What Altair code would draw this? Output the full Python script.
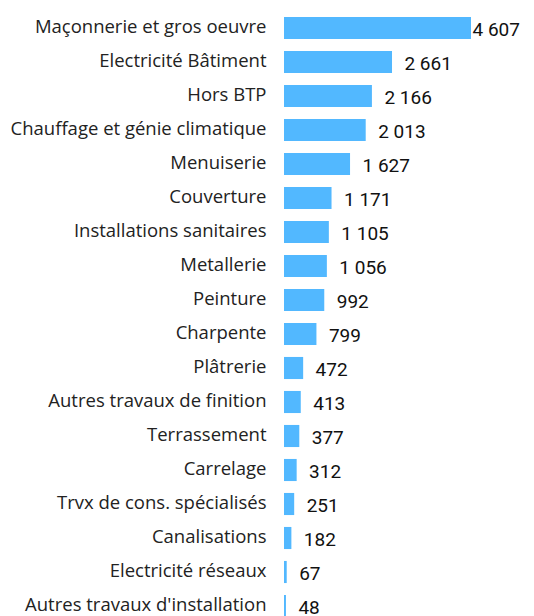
import altair as alt
import pandas as pd

categories = [
    "Maçonnerie et gros oeuvre", "Electricité Bâtiment", "Hors BTP",
    "Chauffage et génie climatique", "Menuiserie", "Couverture",
    "Installations sanitaires", "Metallerie", "Peinture", "Charpente",
    "Plâtrerie", "Autres travaux de finition", "Terrassement", "Carrelage",
    "Trvx de cons. spécialisés", "Canalisations", "Electricité réseaux",
    "Autres travaux d'installation",
]
values = [4607, 2661, 2166, 2013, 1627, 1171, 1105, 1056, 992, 799,
          472, 413, 377, 312, 251, 182, 67, 48]
labels = ["4 607", "2 661", "2 166", "2 013", "1 627", "1 171", "1 105",
          "1 056", "992", "799", "472", "413", "377", "312", "251", "182",
          "67", "48"]

df = pd.DataFrame({"cat": categories, "value": values, "label": labels})
vmax = max(values)

y = alt.Y("cat:N", sort=categories, title=None,
          scale=alt.Scale(paddingInner=0.35, paddingOuter=0.175, range=[0, 612]),
          axis=alt.Axis(domain=False, ticks=False, labelPadding=18,
                        labelFont="Open Sans", labelFontSize=18.5, labelBaseline="middle",
                        labelColor="#222222", labelLimit=320, labelOffset=-1))
xs = alt.Scale(domain=[0, vmax], nice=False, zero=True)

bars = alt.Chart(df).mark_bar(color="#52b8ff").encode(
    x=alt.X("value:Q", scale=xs, axis=None),
    y=y,
)

text = alt.Chart(df).transform_calculate(
    lx=f"min(datum.value + 270, {vmax})"
).mark_text(align="left", baseline="middle", font="Roboto", fontSize=19,
            color="#111111", dy=2, dx=1.5).encode(
    x=alt.X("lx:Q", scale=xs, axis=None),
    y=y,
    text="label:N",
)

chart = (bars + text).properties(
    width=187, height=612,
    autosize=alt.AutoSizeParams(type="none"),
    padding={"left": 276, "top": 3, "right": 55, "bottom": 0},
).configure_view(stroke=None)

chart.save("out.html", embed_options={"renderer": "svg", "actions": False})
